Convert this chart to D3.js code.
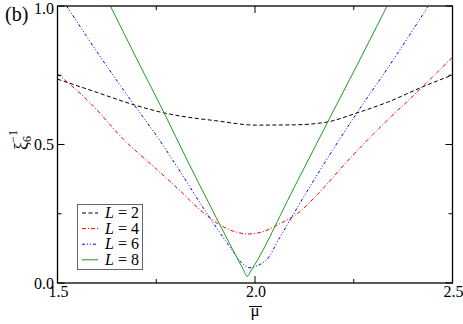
<!DOCTYPE html>
<html>
<head>
<meta charset="utf-8">
<script src="https://cdn.jsdelivr.net/npm/d3@7"></script>
<style>
  body { margin: 0; background: #fff; }
  svg text { font-family: 'Liberation Serif', 'Times New Roman', serif; }
</style>
</head>
<body>
<div id="chart"></div>
<script>
// data: mu-bar and inverse correlation length
const muL2 = [1.5, 1.6, 1.694, 1.77, 1.828, 1.9, 2.0, 2.1, 2.182, 2.258, 2.336, 2.424, 2.5];
const xiL2 = [0.736, 0.688, 0.643, 0.614, 0.599, 0.586, 0.570, 0.571, 0.581, 0.614, 0.653, 0.708, 0.751];

const muL4 = [1.5, 1.583, 1.669, 1.753, 1.803, 1.861, 1.912, 1.95, 1.982, 2.02, 2.056, 2.114, 2.157, 2.232, 2.341, 2.391, 2.5];
const xiL4 = [0.755, 0.650, 0.516, 0.408, 0.343, 0.264, 0.209, 0.185, 0.177, 0.185, 0.209, 0.258, 0.318, 0.437, 0.596, 0.663, 0.815];

const muL6 = [1.523, 1.614, 1.694, 1.753, 1.803, 1.861, 1.942, 1.965, 1.987, 2.005, 2.03, 2.063, 2.131, 2.258, 2.336, 2.437];
const xiL6 = [1.0, 0.805, 0.643, 0.527, 0.419, 0.289, 0.119, 0.075, 0.055, 0.062, 0.085, 0.165, 0.329, 0.614, 0.776, 0.996];

const muL8 = [1.634, 1.702, 1.77, 1.828, 1.879, 1.97, 1.98, 1.99, 2.096, 2.184, 2.265, 2.333];
const xiL8 = [1.0, 0.805, 0.614, 0.444, 0.300, 0.05, 0.024, 0.045, 0.336, 0.581, 0.805, 0.996];

const xMajor = [1.5, 2.0, 2.5];
const xMinor = [1.75, 2.25];
const yMajor = [0.0, 0.5, 1.0];
const yMinor = [0.25, 0.75];

const series = [
  { label: '2', mu: muL2, xi: xiL2, color: '#000000', dash: '4,2.5' },
  { label: '4', mu: muL4, xi: xiL4, color: '#ff0000', dash: '4,2,1,2' },
  { label: '6', mu: muL6, xi: xiL6, color: '#0000ff', dash: '3,2,1,2,1,2' },
  { label: '8', mu: muL8, xi: xiL8, color: '#1f9a1f', dash: null }
];

const W = 463;
const H = 324;
const plot = { left: 57.5, right: 452.5, top: 6, bottom: 283 };
const serif = "'Liberation Serif', 'Times New Roman', serif";

const svg = d3.select('#chart')
  .append('svg')
  .attr('width', W)
  .attr('height', H)
  .attr('font-family', serif);

const x = d3.scaleLinear().domain([1.5, 2.5]).range([plot.left, plot.right]);
const y = d3.scaleLinear().domain([0, 1]).range([plot.bottom, plot.top]);

svg.append('clipPath')
  .attr('id', 'clip')
  .append('rect')
  .attr('x', plot.left)
  .attr('y', plot.top)
  .attr('width', plot.right - plot.left)
  .attr('height', plot.bottom - plot.top);

// curves
const line = d3.line()
  .x(d => x(d[0]))
  .y(d => y(d[1]))
  .curve(d3.curveMonotoneX);

const curves = svg.append('g').attr('clip-path', 'url(#clip)');
series.forEach(s => {
  curves.append('path')
    .datum(s.mu.map((m, i) => [m, s.xi[i]]))
    .attr('d', line)
    .attr('fill', 'none')
    .attr('stroke', s.color)
    .attr('stroke-width', 1)
    .attr('stroke-dasharray', s.dash);
});

// ticks on all four sides, pointing inwards
const ticks = svg.append('g').attr('stroke', '#000').attr('stroke-width', 1);
function xTick (v, len) {
  ticks.append('line').attr('x1', x(v)).attr('x2', x(v)).attr('y1', plot.bottom).attr('y2', plot.bottom - len);
  ticks.append('line').attr('x1', x(v)).attr('x2', x(v)).attr('y1', plot.top).attr('y2', plot.top + len);
}
function yTick (v, len) {
  ticks.append('line').attr('y1', y(v)).attr('y2', y(v)).attr('x1', plot.left).attr('x2', plot.left + len);
  ticks.append('line').attr('y1', y(v)).attr('y2', y(v)).attr('x1', plot.right).attr('x2', plot.right - len);
}
xMajor.forEach(v => xTick(v, 7));
xMinor.forEach(v => xTick(v, 4));
yMajor.forEach(v => yTick(v, 7));
yMinor.forEach(v => yTick(v, 4));

// frame
svg.append('rect')
  .attr('x', plot.left)
  .attr('y', plot.top)
  .attr('width', plot.right - plot.left)
  .attr('height', plot.bottom - plot.top)
  .attr('fill', 'none')
  .attr('stroke', '#000')
  .attr('stroke-width', 1.3);

// tick labels
svg.append('g').selectAll('text')
  .data(xMajor)
  .join('text')
  .attr('x', d => x(d) + 1)
  .attr('y', 297)
  .attr('text-anchor', 'middle')
  .style('font-size', '16px')
  .text(d => d.toFixed(1));

svg.append('g').selectAll('text')
  .data(yMajor)
  .join('text')
  .attr('x', 54)
  .attr('y', d => Math.max(y(d), 8) + 5.5)
  .attr('text-anchor', 'end')
  .style('font-size', '16px')
  .text(d => d.toFixed(1));

// x axis label: mu with a bar
svg.append('text')
  .attr('x', 255)
  .attr('y', 316)
  .attr('text-anchor', 'middle')
  .style('font-size', '17px')
  .text('μ');
svg.append('line')
  .attr('x1', 249).attr('x2', 262)
  .attr('y1', 306.5).attr('y2', 306.5)
  .attr('stroke', '#000')
  .attr('stroke-width', 1);

// y axis label
const ylab = svg.append('text')
  .attr('transform', 'translate(27,140) rotate(-90)')
  .attr('text-anchor', 'middle')
  .style('font-size', '18px');
ylab.append('tspan').text('ξ');
ylab.append('tspan').attr('dy', 4).style('font-size', '12px').text('6');
ylab.append('tspan').attr('dx', -7).attr('dy', -14).style('font-size', '12px').text('−1');

// panel tag
svg.append('text')
  .attr('x', 5)
  .attr('y', 21)
  .style('font-size', '20px')
  .text('(b)');

// legend
const legend = svg.append('g');
legend.append('rect')
  .attr('x', 77.5)
  .attr('y', 204.5)
  .attr('width', 65)
  .attr('height', 65)
  .attr('fill', '#fff')
  .attr('stroke', '#666')
  .attr('stroke-width', 1);

series.forEach((s, i) => {
  const yy = 213 + i * 15.6;
  legend.append('line')
    .attr('x1', 82).attr('x2', 98)
    .attr('y1', yy).attr('y2', yy)
    .attr('stroke', s.color)
    .attr('stroke-width', 1)
    .attr('stroke-dasharray', s.dash);
  const t = legend.append('text')
    .attr('x', 105)
    .attr('y', yy + 5)
    .style('font-size', '16px');
  t.append('tspan').style('font-style', 'italic').text('L');
  t.append('tspan').text(' = ' + s.label);
});
</script>
</body>
</html>
